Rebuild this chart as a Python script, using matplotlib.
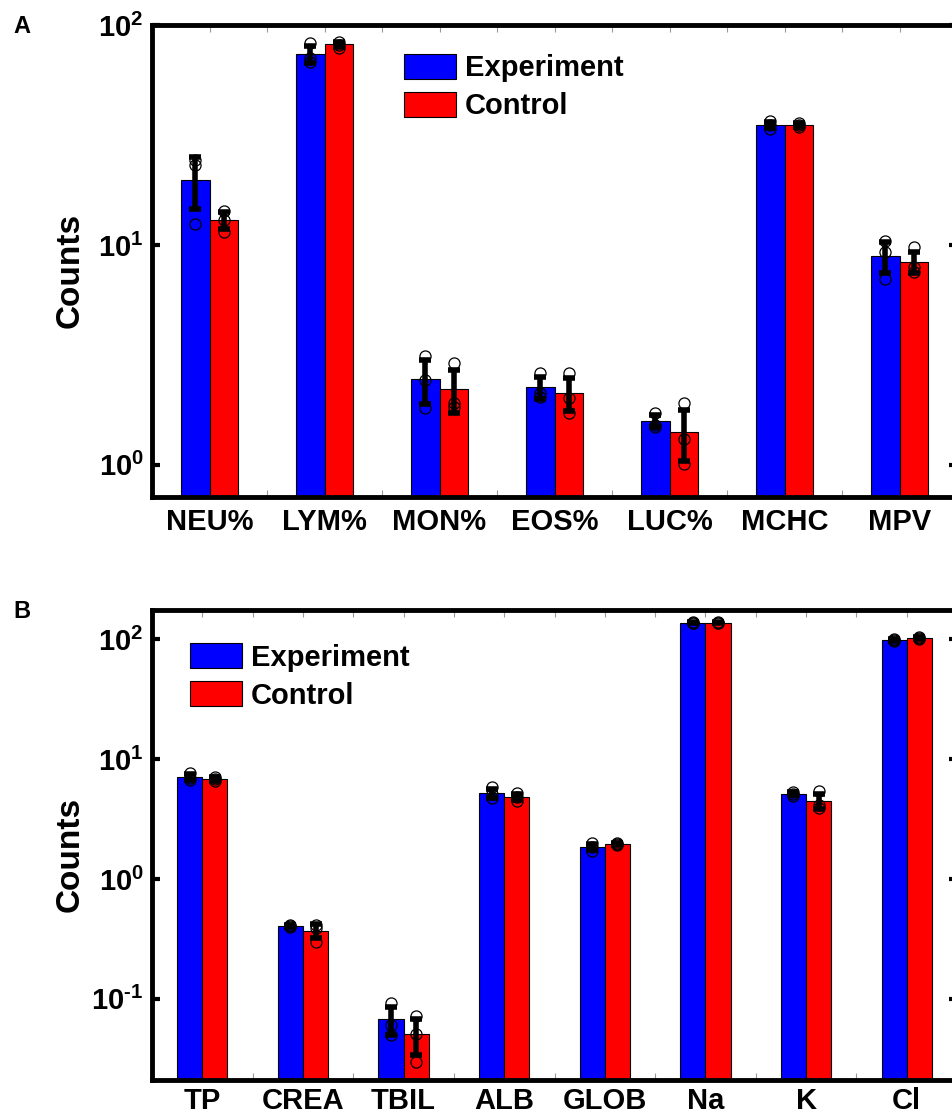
import matplotlib
matplotlib.use("Agg")
import matplotlib.pyplot as plt
import numpy as np
from matplotlib.patches import Patch

plt.rcParams['font.family'] = ['Liberation Sans', 'DejaVu Sans']
plt.rcParams['font.weight'] = 'bold'
plt.rcParams['mathtext.fontset'] = 'custom'
plt.rcParams['mathtext.rm'] = 'Liberation Sans:bold'
plt.rcParams['mathtext.bf'] = 'Liberation Sans:bold'
plt.rcParams['mathtext.it'] = 'Liberation Sans:bold'

# Panel A: blood counts
cats_a = ['NEU%', 'LYM%', 'MON%', 'EOS%', 'LUC%', 'MCHC', 'MPV']
exp_a = [19.8, 73.8, 2.45, 2.26, 1.58, 35.1, 8.9]
ctl_a = [13.0, 81.7, 2.21, 2.12, 1.41, 35.1, 8.37]
exp_a_err = [5.3, 6.4, 0.55, 0.26, 0.10, 1.1, 1.45]
ctl_a_err = [1.15, 2.1, 0.49, 0.37, 0.37, 0.6, 0.95]
exp_a_pts = [[24.3, 23.0, 12.4], [82.8, 70.8, 67.9], [3.13, 2.43, 1.82],
             [2.62, 2.12, 2.04], [1.72, 1.52, 1.49], [36.5, 35.1, 33.7],
             [10.4, 9.3, 7.0]]
ctl_a_pts = [[14.3, 13.0, 11.5], [83.7, 81.1, 78.6], [2.91, 1.91, 1.84],
             [2.62, 2.02, 1.72], [1.91, 1.31, 1.01], [35.8, 35.1, 34.4],
             [9.79, 7.94, 7.54]]
yticks_a = [1, 10, 100]
ytick_labels_a = [r'$\mathbf{10^{0}}$', r'$\mathbf{10^{1}}$', r'$\mathbf{10^{2}}$']

# Panel B: biochemistry
cats_b = ['TP', 'CREA', 'TBIL', 'ALB', 'GLOB', 'Na', 'K', 'Cl']
exp_b = [7.08, 0.406, 0.068, 5.21, 1.85, 137, 5.11, 98]
ctl_b = [6.81, 0.369, 0.051, 4.82, 1.95, 137, 4.47, 102]
exp_b_err = [0.37, 0.01, 0.018, 0.45, 0.11, 1.6, 0.15, 1.6]
ctl_b_err = [0.25, 0.048, 0.017, 0.29, 0.04, 1.3, 0.68, 1.6]
exp_b_pts = [[7.6, 7.0, 6.7], [0.41, 0.405, 0.40], [0.093, 0.061, 0.050],
             [5.8, 5.1, 4.75], [1.98, 1.85, 1.72], [139, 137, 135],
             [5.3, 5.1, 4.95], [100, 98, 96]]
ctl_b_pts = [[7.1, 6.8, 6.5], [0.41, 0.39, 0.30], [0.072, 0.051, 0.030],
             [5.2, 4.8, 4.5], [2.0, 1.95, 1.9], [139, 137, 135.5],
             [5.4, 4.1, 3.9], [104, 102, 100]]
yticks_b = [0.1, 1, 10, 100]
ytick_labels_b = [r'$\mathbf{10^{\text{-}1}}$', r'$\mathbf{10^{0}}$',
                  r'$\mathbf{10^{1}}$', r'$\mathbf{10^{2}}$']


def draw_panel(ax, cats, exp, ctl, exp_err, ctl_err, exp_pts, ctl_pts,
               ylim, yticks, ytick_labels, legend_xy, xpad):
    n = len(cats)
    x = np.arange(n)
    w = 0.25
    ax.set_yscale('log')
    ax.set_ylim(*ylim)
    ax.set_xlim(-0.5, n - 0.5)
    for off, vals, errs, pts, col in [(-w / 2, exp, exp_err, exp_pts, '#0000ff'),
                                      (w / 2, ctl, ctl_err, ctl_pts, '#ff0000')]:
        ax.bar(x + off, np.array(vals) - ylim[0], w, bottom=ylim[0], color=col,
               edgecolor='black', linewidth=0.8, zorder=2)
        for i in range(n):
            ax.plot([x[i] + off] * len(pts[i]), pts[i], 'o', mfc='none',
                    mec='black', mew=0.9, ms=8, zorder=3)
        ax.errorbar(x + off, vals, yerr=errs, fmt='none', ecolor='black',
                    elinewidth=4, capsize=4, capthick=4, zorder=4)

    for s in ax.spines.values():
        s.set_linewidth(3.5)
    ax.set_yticks(yticks)
    ax.set_yticklabels(ytick_labels, fontsize=21)
    ax.yaxis.set_minor_locator(matplotlib.ticker.NullLocator())
    ax.tick_params(axis='y', which='major', direction='in', length=6, width=3,
                   right=True, pad=6)
    ax.set_xticks(x)
    ax.set_xticklabels(cats, fontsize=21, fontweight='bold')
    ax.set_xticks(np.arange(n + 1) - 0.5, minor=True)
    ax.tick_params(axis='x', which='both', direction='in', length=5,
                   width=0.8, color='#999999', top=True, pad=xpad)
    ax.set_ylabel('Counts', fontsize=24, fontweight='bold')
    ax.yaxis.set_label_coords(-0.082, 0.48)

    handles = [Patch(facecolor='#0000ff', edgecolor='black', linewidth=0.8),
               Patch(facecolor='#ff0000', edgecolor='black', linewidth=0.8)]
    ax.legend(handles, ['Experiment', 'Control'], loc='upper left',
              bbox_to_anchor=legend_xy, frameon=False, fontsize=21,
              handlelength=1.78, handleheight=0.95, handletextpad=0.31,
              labelspacing=0.32, borderpad=0, borderaxespad=0)


fig = plt.figure(figsize=(9.53, 11.19), dpi=100)
ax_a = fig.add_axes([0.1595, 0.5559, 0.8447, 0.4218])
ax_b = fig.add_axes([0.1595, 0.0349, 0.8447, 0.4200])

draw_panel(ax_a, cats_a, exp_a, ctl_a, exp_a_err, ctl_a_err, exp_a_pts, ctl_a_pts,
           (0.715, 100), yticks_a, ytick_labels_a, (0.313, 0.939), 8)
draw_panel(ax_b, cats_b, exp_b, ctl_b, exp_b_err, ctl_b_err, exp_b_pts, ctl_b_pts,
           (0.0211, 174.5), yticks_b, ytick_labels_b, (0.047, 0.929), 5)

fig.text(0.0136, 0.987, 'A', fontsize=17, fontweight='bold', va='top')
fig.text(0.0136, 0.464, 'B', fontsize=17, fontweight='bold', va='top')

fig.savefig('out.png', dpi=100)
